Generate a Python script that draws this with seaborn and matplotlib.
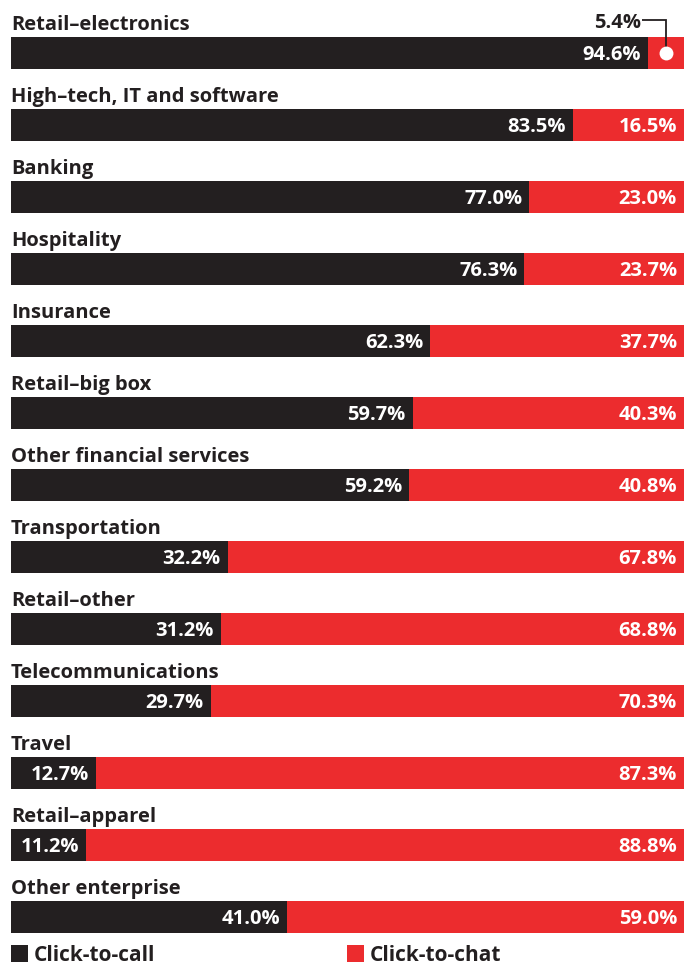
import matplotlib
matplotlib.use("Agg")
import matplotlib.pyplot as plt
import seaborn as sns
import pandas as pd

categories = [
    "Retail–electronics", "High–tech, IT and software", "Banking", "Hospitality",
    "Insurance", "Retail–big box", "Other financial services", "Transportation",
    "Retail–other", "Telecommunications", "Travel", "Retail–apparel", "Other enterprise",
]
click_to_call = [94.6, 83.5, 77.0, 76.3, 62.3, 59.7, 59.2, 32.2, 31.2, 29.7, 12.7, 11.2, 41.0]
click_to_chat = [5.4, 16.5, 23.0, 23.7, 37.7, 40.3, 40.8, 67.8, 68.8, 70.3, 87.3, 88.8, 59.0]
series_names = ["Click-to-call", "Click-to-chat"]

BLACK = "#231f20"
RED = "#ec2c2e"

sns.set_theme(style="white")
plt.rcParams["font.family"] = ["Open Sans", "DejaVu Sans"]

df = pd.DataFrame({"category": categories, "call": click_to_call, "chat": click_to_chat})
df["total"] = df["call"] + df["chat"]

W, H = 691, 967
fig = plt.figure(figsize=(W / 100, H / 100), dpi=100)
ax = fig.add_axes([11 / W, 0, (684 - 11) / W, 1])

bar_w = 32 / 72
sns.barplot(data=df, y="category", x="total", color=RED, width=bar_w,
            linewidth=0, saturation=1, ax=ax, orient="h")
sns.barplot(data=df, y="category", x="call", color=BLACK, width=bar_w,
            linewidth=0, saturation=1, ax=ax, orient="h")

ax.set_xlim(0, 100)
# rows are 72 px apart, first bar centred at 53 px from the top
ax.set_ylim((H - 53) / 72, -53 / 72)
ax.axis("off")

px = 100 / (684 - 11)  # data units per pixel horizontally
py = 1 / 72            # data units per pixel vertically
fs_cat = 14.5
fs_val = 14.5
for i, row in df.iterrows():
    ax.text(0, i - 23 * py, row["category"], ha="left", va="baseline",
            fontsize=fs_cat, fontweight="bold", color=BLACK)
    ax.text(row["call"] - 7 * px, i + 7.5 * py, f"{row['call']:.1f}%", ha="right",
            va="baseline", fontsize=fs_val, fontweight="bold", color="white")
    if row["chat"] >= 10:
        ax.text(row["total"] - 7 * px, i + 7.5 * py, f"{row['chat']:.1f}%", ha="right",
                va="baseline", fontsize=fs_val, fontweight="bold", color="white")
    else:
        # small segment: call-out label above the bar
        cx = row["call"] + row["chat"] / 2
        ly = i - 33 * py
        ax.text(row["call"] - 7 * px, ly + 7.5 * py, f"{row['chat']:.1f}%", ha="right",
                va="baseline", fontsize=fs_val, fontweight="bold", color=BLACK)
        ax.plot([row["call"] - 6 * px, cx, cx], [ly, ly, i], color=BLACK, lw=1.3,
                solid_capstyle="butt", solid_joinstyle="miter")
        ax.plot([cx], [i], "o", color="white", ms=10, mec="none")

# legend
leg_top = (945 - 53) * py
for x0, name, col in [(0, series_names[0], BLACK), ((347 - 11) * px, series_names[1], RED)]:
    ax.add_patch(plt.Rectangle((x0, leg_top), 17 * px, 17 * py, color=col, lw=0,
                               clip_on=False))
    ax.text(x0 + 23 * px, leg_top + 16 * py, name, ha="left", va="baseline",
            fontsize=15, fontweight="bold", color=BLACK)

fig.savefig("out.png", dpi=100)
